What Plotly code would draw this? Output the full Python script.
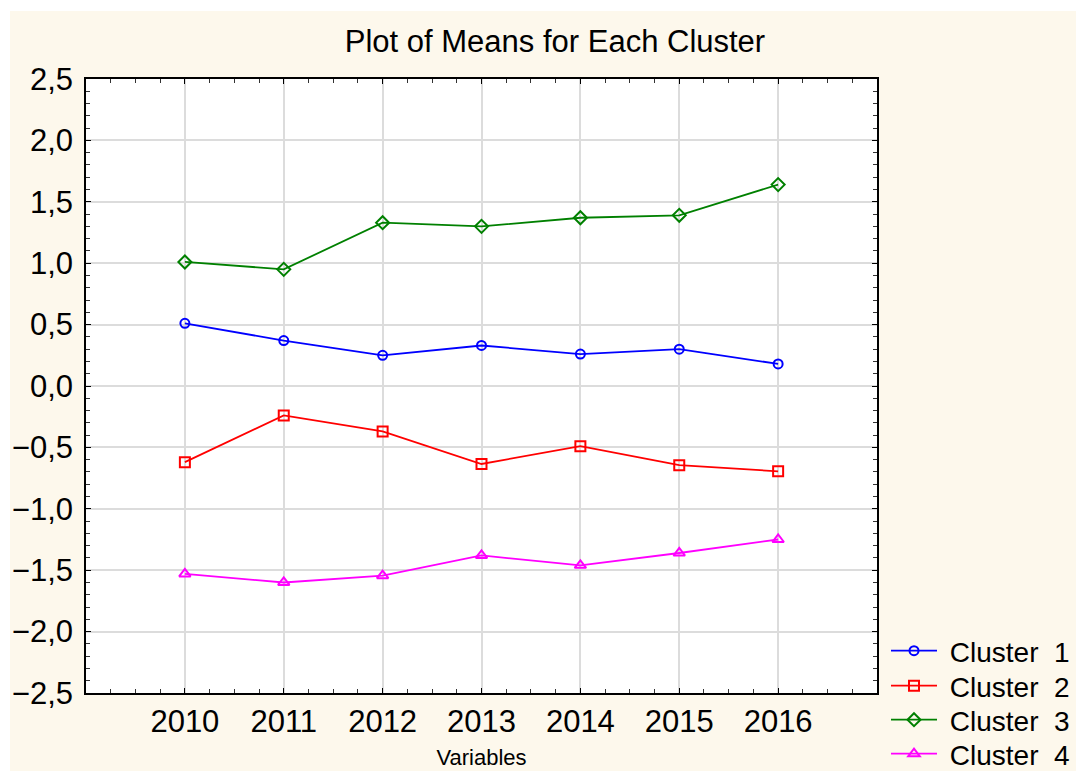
import plotly.graph_objects as go

# Data
years = [2010, 2011, 2012, 2013, 2014, 2015, 2016]
cluster1 = [0.51, 0.37, 0.25, 0.33, 0.26, 0.30, 0.18]
cluster2 = [-0.62, -0.24, -0.37, -0.635, -0.49, -0.645, -0.695]
cluster3 = [1.01, 0.95, 1.33, 1.30, 1.37, 1.39, 1.64]
cluster4 = [-1.53, -1.60, -1.545, -1.38, -1.46, -1.36, -1.25]
names = [" Cluster  1", " Cluster  2", " Cluster  3", " Cluster  4"]
yticks = [-2.5, -2.0, -1.5, -1.0, -0.5, 0.0, 0.5, 1.0, 1.5, 2.0, 2.5]

series = [cluster1, cluster2, cluster3, cluster4]
colors = ["#0000FF", "#FF0000", "#008000", "#FF00FF"]
symbols = ["circle-open", "square-open", "diamond-open", "triangle-up-open"]
msizes = [9, 10, 10, 10]
legend_ids = ["legend", "legend2", "legend3", "legend4"]

# the page puts the figure 8px in from the top-left corner
OFF = 8
W, H = 1084, 771
L, R, T, B = 78, 215, 71, 86
pw, ph = W - L - R, H - T - B
cream = "#FDF8EC"
font = "Liberation Sans, Arial, sans-serif"


def px2x(p):
    # screen pixel -> paper x
    return (p - OFF - L) / pw


def px2y(p):
    # screen pixel -> paper y
    return (H - B - (p - OFF)) / ph


fig = go.Figure()
for vals, name, c, s, ms, lg in zip(series, names, colors, symbols, msizes, legend_ids):
    fig.add_trace(go.Scatter(
        x=years, y=vals, name=name, mode="lines+markers", legend=lg,
        line=dict(color=c, width=1.8),
        marker=dict(symbol=s, size=ms, color=c, line=dict(color=c, width=2)),
    ))

# thin white border at the top and left of the picture
fig.add_shape(type="rect", xref="paper", yref="paper", layer="below",
              x0=px2x(0), x1=px2x(W + OFF), y0=px2y(11), y1=px2y(0),
              fillcolor="white", line_width=0)
fig.add_shape(type="rect", xref="paper", yref="paper", layer="below",
              x0=px2x(0), x1=px2x(10), y0=px2y(H + OFF), y1=px2y(0),
              fillcolor="white", line_width=0)

legend_y = [651, 686, 720, 754]
legends = {}
for lg, ly in zip(legend_ids, legend_y):
    legends[lg] = dict(x=px2x(886), y=px2y(ly), xanchor="left", yanchor="middle",
                       xref="paper", yref="paper", bgcolor="rgba(0,0,0,0)",
                       font=dict(size=28), itemwidth=46, borderwidth=0)

fig.update_layout(
    template="none",
    width=W, height=H,
    margin=dict(l=L, r=R, t=T, b=B, autoexpand=False),
    paper_bgcolor=cream, plot_bgcolor="white",
    separators=", ",
    font=dict(family=font, size=30, color="black"),
    title=dict(text="Plot of Means for Each Cluster", x=(555 - OFF) / W, xref="container",
               xanchor="center", y=1 - (41 - OFF) / H, yanchor="middle",
               font=dict(size=31)),
    showlegend=True,
    **legends,
)

fig.update_xaxes(
    range=[2009, 2017], tickvals=years, ticktext=[str(y) for y in years],
    showgrid=True, gridcolor="#DCDCDC", gridwidth=1.5,
    showline=True, linecolor="black", linewidth=1.5, mirror="ticks",
    ticks="inside", ticklen=5, tickcolor="black",
    minor=dict(tick0=2009, dtick=0.25, ticks="inside", ticklen=4,
               tickcolor="#333", showgrid=False),
    tickfont=dict(size=31), automargin=False,
    title=dict(text="Variables", font=dict(size=22), standoff=12),
    zeroline=False,
)
fig.update_yaxes(
    range=[-2.5, 2.5], tickvals=yticks, tickformat=".1f",
    showgrid=True, gridcolor="#DCDCDC", gridwidth=1.5,
    showline=True, linecolor="black", linewidth=1.5, mirror="ticks",
    ticks="inside", ticklen=5, tickcolor="black",
    minor=dict(tick0=-2.5, dtick=0.1, ticks="inside", ticklen=4,
               tickcolor="#333", showgrid=False),
    tickfont=dict(size=31), ticklabelstandoff=5, automargin=False,
    zeroline=False,
)

fig.write_html("out.html")
